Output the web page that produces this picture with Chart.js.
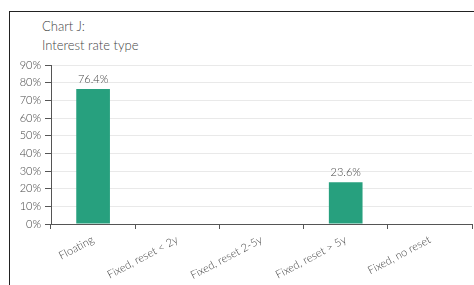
<!DOCTYPE html>
<html>
<head>
<meta charset="utf-8">
<script src="https://cdn.jsdelivr.net/npm/chart.js@4"></script>
<style>
  html, body { margin: 0; padding: 0; background: #fff; overflow: hidden; }
  #wrap { position: relative; width: 474px; height: 285px; }
  #frame { position: absolute; left: 9px; top: 11px; width: 480px; height: 300px;
           border-top: 1px solid #222; border-left: 1px solid #222; }
  #title { position: absolute; left: 42px; top: 17px; font-family: Lato, sans-serif; font-weight: 300;
           font-size: 13px; line-height: 19px; color: #444; }
  canvas { position: absolute; left: 0; top: 0; }
</style>
</head>
<body>
<div id="wrap">
  <div id="frame"></div>
  <div id="title">Chart J:<br>Interest rate type</div>
  <canvas id="myChart" width="474" height="285"></canvas>
</div>
<script>
const categories = ['Floating', 'Fixed, reset < 2y', 'Fixed, reset 2-5y', 'Fixed, reset > 5y', 'Fixed, no reset'];
const shares = [76.4, 0, 0, 23.6, 0];
const yTicks = [0, 10, 20, 30, 40, 50, 60, 70, 80, 90];

const valueLabels = {
	id: 'valueLabels',
	afterDatasetsDraw(chart) {
		const ctx = chart.ctx;
		const meta = chart.getDatasetMeta(0);
		ctx.save();
		ctx.font = '300 11px Lato, sans-serif';
		ctx.fillStyle = '#444';
		ctx.textAlign = 'center';
		ctx.textBaseline = 'bottom';
		meta.data.forEach((bar, i) => {
			if (shares[i] > 0) ctx.fillText(shares[i].toFixed(1) + '%', bar.x, bar.y - 4);
		});
		ctx.restore();
	}
};

const ctx = document.getElementById('myChart').getContext('2d');
const myChart = new Chart(ctx, {
	type: 'bar',
	data: {
		labels: categories,
		datasets: [{
			data: shares,
			backgroundColor: '#27a07e',
			borderWidth: 0,
			categoryPercentage: 1,
			barPercentage: 0.4
		}]
	},
	options: {
		responsive: false,
		animation: false,
		layout: { padding: { top: 65, left: 17, right: 2, bottom: 0 } },
		plugins: { legend: { display: false }, tooltip: { enabled: false } },
		scales: {
			x: {
				grid: { drawOnChartArea: false, tickColor: '#555', tickLength: 5 },
				border: { color: '#555' },
				ticks: { color: '#444', font: { family: 'Lato', size: 11, weight: 300 }, minRotation: 28, maxRotation: 28, padding: 4 },
				afterFit(scale) { scale.height = 61; }
			},
			y: {
				min: 0,
				max: 90,
				afterBuildTicks(scale) { scale.ticks = yTicks.map(v => ({ value: v })); },
				grid: { color: '#e9e9e9', tickColor: '#555', tickLength: 6 },
				border: { color: '#555' },
				ticks: { color: '#444', font: { family: 'Lato', size: 11, weight: 300 }, padding: 4, callback: v => v + '%' },
				afterFit(scale) { scale.width = 34; }
			}
		}
	},
	plugins: [valueLabels]
});
</script>
</body>
</html>
